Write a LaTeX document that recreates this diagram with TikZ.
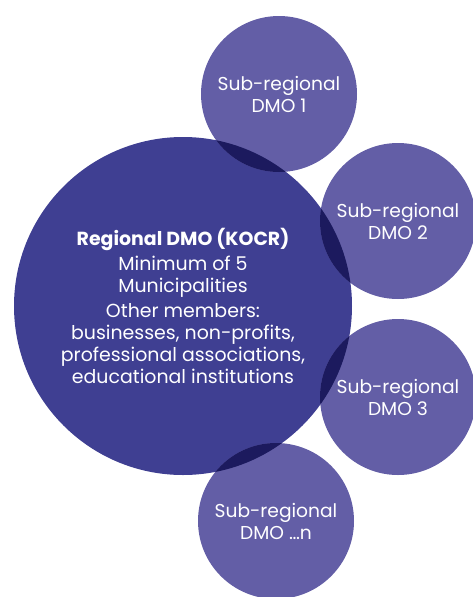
\documentclass[tikz,border=0pt]{standalone}
\usepackage{fontspec}
\setmainfont{Poppins}
\definecolor{regionblue}{RGB}{63,63,146}
\definecolor{subblue}{RGB}{99,94,166}
\definecolor{overlapblue}{RGB}{28,26,94}
\begin{document}
\begin{tikzpicture}[x=0.75pt, y=-0.75pt,
	regionbig/.style={circle, fill=regionblue, text=white, inner sep=0pt, minimum size=253.5pt, align=center, font=\fontsize{14.2pt}{16.5pt}\selectfont},
	regionsub/.style={circle, fill=subblue, text=white, inner sep=0pt, minimum size=117pt, align=center, font=\fontsize{14pt}{16.5pt}\selectfont}]
	\useasboundingbox (0,0) rectangle (472,597);
	
	\node[regionbig] (regional) at (183,306) {\textbf{Regional DMO (KOCR)}\\[2.5pt] Minimum of 5\\ Municipalities\\[2.5pt] Other members:\\ businesses, non-profits,\\ professional associations,\\ educational institutions};
	
	\node[regionsub] (dmoa) at (279,94) {Sub-regional\\ DMO 1};
	\node[regionsub] (dmob) at (398,221) {Sub-regional\\ DMO 2};
	\node[regionsub] (dmoc) at (398,397) {Sub-regional\\ DMO 3};
	\node[regionsub] (dmon) at (276,521) {Sub-regional\\ DMO \dots n};
	
	\begin{scope}
		\clip (regional.center) circle (126.75pt);
		\foreach \sub in {dmoa,dmob,dmoc,dmon} {
			\fill[overlapblue] (\sub.center) circle (58.5pt);
		}
	\end{scope}
\end{tikzpicture}
\end{document}
